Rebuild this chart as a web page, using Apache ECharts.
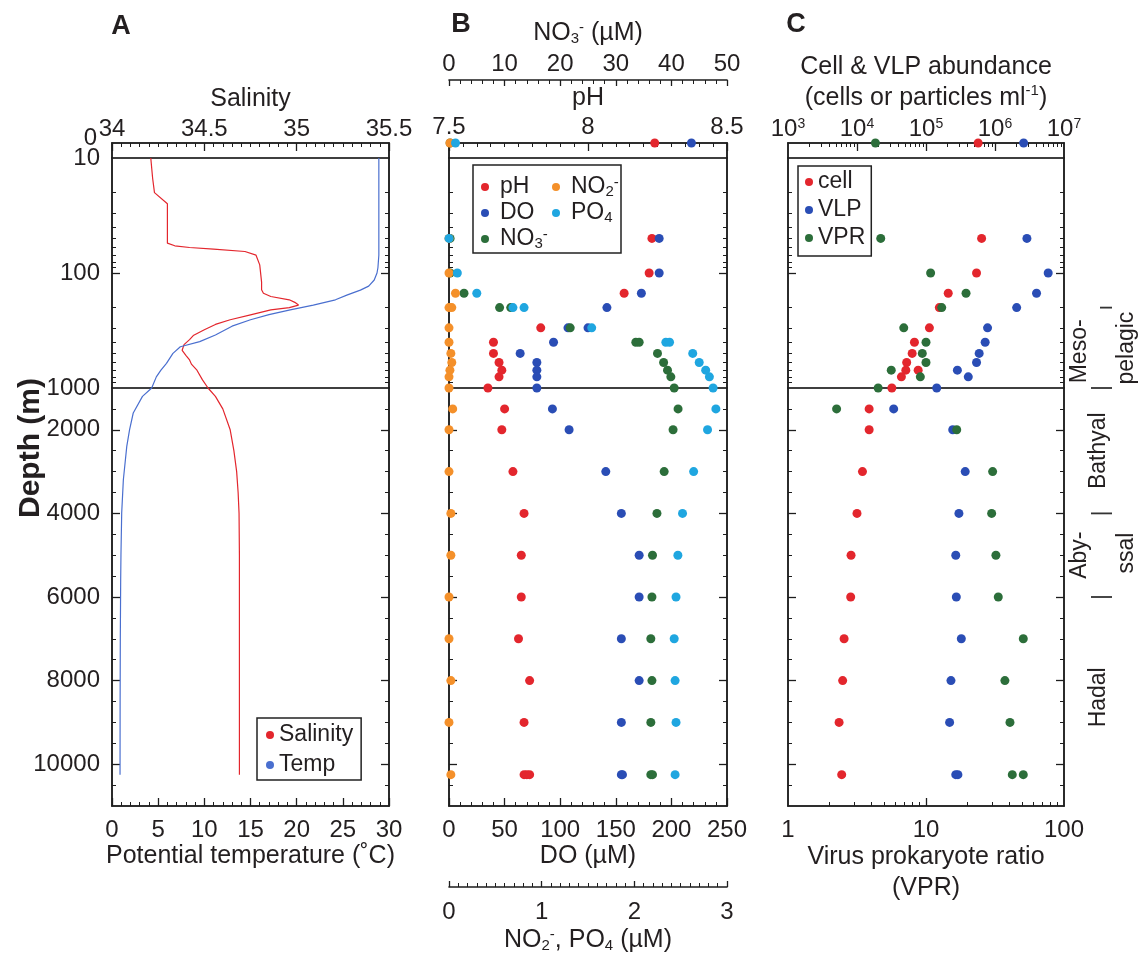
<!DOCTYPE html>
<html><head><meta charset="utf-8">
<script src="https://cdn.jsdelivr.net/npm/echarts@6/dist/echarts.min.js"></script>
<style>html,body{margin:0;padding:0;background:#fff;}#c{width:1142px;height:957px;}</style>
</head><body><div id="c"></div>
<script>
// ---------------- DATA ----------------
// Panel A: CTD profiles (depth m, value)
const salDepth = [10,15,20,25,40,55,58,60,62,65,70,85,120,140,150,160,171,180,190,200,209,231,255,280,311,350,380,420,470,520,570,620,700,850,1000,1200,1500,2000,2500,3000,3500,4000,5000,6000,7000,8000,9000,10250];
const salValue = [34.21,34.22,34.23,34.30,34.30,34.30,34.34,34.42,34.55,34.72,34.78,34.80,34.81,34.81,34.82,34.86,34.96,34.99,35.01,34.96,34.86,34.75,34.64,34.56,34.50,34.44,34.42,34.39,34.38,34.40,34.42,34.43,34.46,34.49,34.52,34.56,34.60,34.64,34.66,34.675,34.683,34.688,34.69,34.69,34.69,34.69,34.69,34.69];
const tempDepth = [10,30,50,70,90,100,115,130,141,155,171,190,209,230,255,290,346,395,438,500,610,700,800,1000,1200,1598,2000,2397,3194,3994,5000,5586,7000,8500,10250];
const tempValue = [28.9,28.9,28.9,28.9,28.8,28.7,28.4,27.8,26.9,25.5,24.2,21.8,19.3,17.0,15.0,13.0,11.2,9.5,7.4,6.6,5.9,5.3,4.8,4.3,3.3,2.3,1.9,1.6,1.23,1.05,0.97,0.94,0.90,0.88,0.87];

// Panel B: chemistry
const pHDepth = [0,50,100,150,300,400,500,600,700,800,1000,1500,2000,3000,4000,5000,6000,7000,8000,9000,10250,10250,10250];
const pHValue = [8.24,8.23,8.22,8.13,7.83,7.66,7.66,7.68,7.69,7.68,7.64,7.70,7.69,7.73,7.77,7.76,7.76,7.75,7.79,7.77,7.77,7.78,7.79];
const doDepth = [0,50,100,150,200,300,300,400,500,600,700,800,1000,1500,2000,3000,4000,5000,6000,7000,8000,9000,10250,10250];
const doValue = [218,189,189,173,142,107,125,94,64,79,79,79,79,93,108,141,155,171,171,155,171,155,155,156];
const no3Depth = [0,50,100,150,200,200,300,400,400,500,600,700,800,1000,1500,2000,3000,4000,5000,6000,7000,8000,9000,10250,10250];
const no3Value = [0.2,0.2,0.2,2.7,9.1,11.1,21.8,33.6,34.2,37.5,38.6,39.3,39.9,40.5,41.2,40.3,38.7,37.4,36.6,36.5,36.3,36.5,36.3,36.3,36.6];
const no2Depth = [0,50,100,150,200,200,300,400,500,600,700,800,1000,1500,2000,3000,4000,5000,6000,7000,8000,9000,10250];
const no2Value = [0.01,0.0,0.0,0.07,0.03,0.0,0.0,0.0,0.02,0.03,0.01,0.0,0.0,0.04,0.0,0.0,0.02,0.02,0.0,0.0,0.02,0.0,0.02];
const po4Depth = [0,50,100,150,200,200,300,400,400,500,600,700,800,1000,1500,2000,3000,4000,5000,6000,7000,8000,9000,10250];
const po4Value = [0.07,0.0,0.09,0.30,0.69,0.81,1.54,2.34,2.38,2.63,2.70,2.77,2.81,2.85,2.88,2.79,2.64,2.52,2.47,2.45,2.43,2.44,2.45,2.44];

// Panel C: abundances and VPR
const cellDepth = [0,50,100,150,200,300,400,500,600,700,700,800,1000,1500,2000,3000,4000,5000,6000,7000,8000,9000,10250];
const cellValue = [5.7e5,6.4e5,5.4e5,2.1e5,1.56e5,1.12e5,6.8e4,6.3e4,5.25e4,5.1e4,7.7e4,4.4e4,3.2e4,1.5e4,1.5e4,1.2e4,1.0e4,8.2e3,8.1e3,6.5e3,6.2e3,5.5e3,6.0e3];
const vlpDepth = [0,50,100,150,200,300,400,500,600,700,800,1000,1500,2000,3000,4000,5000,6000,7000,8000,9000,10250,10250];
const vlpValue = [2.6e6,2.9e6,5.9e6,4.0e6,2.06e6,7.8e5,7.2e5,5.9e5,5.4e5,2.85e5,4.1e5,1.43e5,3.4e4,2.44e5,3.7e5,3.0e5,2.7e5,2.75e5,3.25e5,2.3e5,2.2e5,2.7e5,2.9e5];
const vprDepth = [0,50,100,150,200,300,400,500,600,700,800,1000,1500,2000,3000,4000,5000,6000,7000,8000,9000,10250,10250];
const vprValue = [4.3,4.7,10.8,19.5,13,6.9,10,9.4,10,5.6,9.1,4.5,2.25,16.7,30.4,29.9,32.1,33.4,50.7,37.3,40.6,42.2,50.7];

// Tick / label values
const depthLabels = [[0],[10,100],[1000,2000,4000,6000,8000,10000]];
const depthMajorTicks = [[],[100],[2000,4000,6000,8000,10000]];
const depthMinorTicks = [[],[20,30,40,50,60,70,80,90,200,300,400,500,600,700,800,900],[1500,2500,3000,3500,4500,5000,5500,6500,7000,7500,8500,9000,9500,10500]];
const cellLabels = [1e3,1e4,1e5,1e6,1e7];
const cellMajor = [1e4,1e5,1e6];
const cellMinor = [2e3,3e3,4e3,5e3,6e3,7e3,8e3,9e3,2e4,3e4,4e4,5e4,6e4,7e4,8e4,9e4,2e5,3e5,4e5,5e5,6e5,7e5,8e5,9e5,2e6,3e6,4e6,5e6,6e6,7e6,8e6,9e6];
const vprLabels = [1,10,100];
const vprMajor = [10];
const vprMinor = [2,3,4,5,6,7,8,9,20,30,40,50,60,70,80,90];
const zones = [{text:'Meso-',d:480,col:0},{text:'pelagic',d:450,col:2},{text:'Bathyal',d:2500,col:1},{text:'Aby-',d:5000,col:0},{text:'ssal',d:4950,col:2},{text:'Hadal',d:8400,col:1}];
const zoneBounds = [200,1000,4000,6000];

// ---------------- LAYOUT / STYLE ----------------
const FONT = "'Liberation Sans', Arial, Helvetica, sans-serif";
const TXT = '#231f20';
const AX = '#1d1d1d';
const RED = '#e3262d', BLUE = '#2a4db5', GREEN = '#2c6e3a', ORANGE = '#f4902a', CYAN = '#1fa6e0';
const PANELS = {A:{left:112,width:277}, B:{left:449,width:278}, C:{left:788,width:276}};
const SECTIONS = [{top:143,height:15},{top:158,height:230},{top:388,height:418}];
const TICK_FS = 24, NAME_FS = 25, LEG_FS = 23;
const RICH = {
  sub:{fontSize:15, verticalAlign:'bottom', fontFamily:FONT, color:TXT, lineHeight:15},
  sup:{fontSize:15, verticalAlign:'top', fontFamily:FONT, color:TXT, lineHeight:15},
  s:{fontSize:14, verticalAlign:'top', fontFamily:FONT, color:TXT, lineHeight:14}
};

const option = {animation:false, backgroundColor:'#fff', textStyle:{fontFamily:FONT},
  grid:[], xAxis:[], yAxis:[], series:[], legend:[]};

function addGrid(p, sec){
  const s = SECTIONS[sec];
  option.grid.push({left:p.left, top:s.top, width:p.width, height:s.height, show:true,
    borderColor:'#333', borderWidth:1.5, backgroundColor:'transparent', containLabel:false, outerBoundsMode:'none'});
  return option.grid.length-1;
}
function addX(a){ option.xAxis.push(a); return option.xAxis.length-1; }
function addY(a){ option.yAxis.push(a); return option.yAxis.length-1; }

function depthBase(sec){
  if(sec===0) return {type:'value', min:0, max:10, inverse:true};
  if(sec===1) return {type:'log', logBase:10, min:10, max:1000, inverse:true};
  return {type:'value', min:1000, max:11000, inverse:true};
}
function addDepthAxes(gi, sec, withLabels){
  let main;
  ['left','right'].forEach(pos=>{
    const maj = depthMajorTicks[sec];
    const lab = {show: withLabels && pos==='left', customValues:depthLabels[sec], margin:12,
        fontSize:TICK_FS, fontFamily:FONT, color:TXT, formatter:v=>String(Math.round(v))};
    if(sec===0){ lab.verticalAlign='bottom'; lab.lineHeight=10; lab.margin=15; }
    const ax = Object.assign(depthBase(sec), {gridIndex:gi, position:pos,
      axisLine:{show:true, onZero:false, lineStyle:{color:AX, width:1.6}},
      axisTick:{show:maj.length>0, inside:true, length:8, customValues:maj, lineStyle:{color:AX, width:1.3}},
      axisLabel:lab, splitLine:{show:false}});
    const idx = addY(ax);
    if(pos==='left') main = idx;
    const mn = depthMinorTicks[sec];
    if(mn.length){
      addY(Object.assign(depthBase(sec), {gridIndex:gi, position:pos,
        axisLine:{show:false, onZero:false},
        axisTick:{show:true, inside:true, length:4, customValues:mn, lineStyle:{color:AX, width:1}},
        axisLabel:{show:false}, splitLine:{show:false}}));
    }
  });
  return main;
}
function hiddenX(gi, type, min, max){
  return addX({gridIndex:gi, type, min, max, show:false, axisLine:{onZero:false}, splitLine:{show:false}});
}
function visX(gi, c){
  const ax = {gridIndex:gi, type:c.type||'value', position:c.position, offset:c.offset||0, min:c.min, max:c.max,
    axisLine:{show:true, onZero:false, lineStyle:{color:AX, width:1.6}},
    axisTick:{show:true, inside:c.inside!==false, length:c.tickLen||8, lineStyle:{color:AX, width:1.3}},
    axisLabel:{show:true, margin:c.margin, fontSize:TICK_FS, fontFamily:FONT, color:TXT, lineHeight:24,
      formatter:c.formatter||(v=>String(v)), rich:RICH},
    splitLine:{show:false},
    name:c.name, nameLocation:'middle', nameGap:c.nameGap, nameMoveOverlap:false,
    nameTextStyle:{fontSize:NAME_FS, fontFamily:FONT, color:TXT, lineHeight:c.nameLH||26, rich:RICH}};
  if(c.logBase) ax.logBase = c.logBase;
  if(c.interval!=null){ ax.interval=c.interval;
    ax.minorTick={show:true, splitNumber:c.minorSplit, length:4, lineStyle:{color:AX, width:1}}; }
  if(c.tickValues) ax.axisTick.customValues = c.tickValues;
  if(c.labelValues) ax.axisLabel.customValues = c.labelValues;
  return addX(ax);
}
function minorX(gi, type, min, max, position, values){
  return addX({gridIndex:gi, type, logBase:10, min, max, position,
    axisLine:{show:false, onZero:false},
    axisTick:{show:true, inside:true, length:4, customValues:values, lineStyle:{color:AX, width:1}},
    axisLabel:{show:false}, splitLine:{show:false}});
}
function secOf(d){ return d<10 ? 0 : (d<=1000 ? 1 : 2); }
function pts(vals, depths, sec){
  const out=[]; for(let i=0;i<vals.length;i++){ if(secOf(depths[i])===sec) out.push([vals[i], depths[i]]); } return out;
}
function linePts(vals, depths, sec){
  const out=[]; for(let i=0;i<vals.length;i++){ const d=depths[i];
    if(sec===1 && d>=10 && d<=1000) out.push([vals[i], d]);
    if(sec===2 && d>=1000) out.push([vals[i], d]); }
  return out;
}
function scatter(name, color, xi, yi, data){
  option.series.push({type:'scatter', name, xAxisIndex:xi, yAxisIndex:yi, data, symbol:'circle', symbolSize:9,
    itemStyle:{color, opacity:1}, emphasis:{disabled:true}, z:3});
}
function line(name, color, xi, yi, data){
  option.series.push({type:'line', name, xAxisIndex:xi, yAxisIndex:yi, data, symbol:'none', showSymbol:false,
    lineStyle:{color, width:1.2}, itemStyle:{color}, emphasis:{disabled:true}, clip:true, z:2});
}

// ---------- Panel A ----------
for(let sec=0; sec<3; sec++){
  const gi = addGrid(PANELS.A, sec);
  const yi = addDepthAxes(gi, sec, true);
  const sx = sec===0 ? visX(gi,{position:'top', min:34, max:35.5, interval:0.5, minorSplit:10, margin:2,
      name:'Salinity', nameGap:31}) : hiddenX(gi,'value',34,35.5);
  const tx = sec===2 ? visX(gi,{position:'bottom', min:0, max:30, interval:5, minorSplit:5, margin:12,
      name:'Potential temperature (˚C)', nameGap:37}) : hiddenX(gi,'value',0,30);
  if(sec>0){
    line('Salinity', RED, sx, yi, linePts(salValue, salDepth, sec));
    line('Temp', '#4a6fcf', tx, yi, linePts(tempValue, tempDepth, sec));
  }
}
// ---------- Panel B ----------
for(let sec=0; sec<3; sec++){
  const gi = addGrid(PANELS.B, sec);
  const yi = addDepthAxes(gi, sec, false);
  const phx = sec===0 ? visX(gi,{position:'top', min:7.5, max:8.5, interval:0.5, minorSplit:10, margin:4,
      name:'pH', nameGap:32}) : hiddenX(gi,'value',7.5,8.5);
  const n3x = sec===0 ? visX(gi,{position:'top', offset:63, min:0, max:50, interval:10, minorSplit:5, margin:4,
      tickLen:6, name:'NO{sub|3}{sup|-} (µM)', nameGap:34}) : hiddenX(gi,'value',0,50);
  const dox = sec===2 ? visX(gi,{position:'bottom', min:0, max:250, interval:50, minorSplit:5, margin:12,
      name:'DO (µM)', nameGap:37}) : hiddenX(gi,'value',0,250);
  const npx = sec===2 ? visX(gi,{position:'bottom', offset:81, min:0, max:3, interval:1, minorSplit:10, margin:13,
      tickLen:6, name:'NO{sub|2}{sup|-}, PO{sub|4} (µM)', nameGap:40}) : hiddenX(gi,'value',0,3);
  scatter('pH', RED, phx, yi, pts(pHValue, pHDepth, sec));
  scatter('DO', BLUE, dox, yi, pts(doValue, doDepth, sec));
  scatter('NO3', GREEN, n3x, yi, pts(no3Value, no3Depth, sec));
  scatter('NO2', ORANGE, npx, yi, pts(no2Value, no2Depth, sec));
  scatter('PO4', CYAN, npx, yi, pts(po4Value, po4Depth, sec));
}
// ---------- Panel C ----------
const C_Y = [];
for(let sec=0; sec<3; sec++){
  const gi = addGrid(PANELS.C, sec);
  const yi = addDepthAxes(gi, sec, false);
  C_Y.push(yi);
  let cx, vx;
  if(sec===0){
    cx = visX(gi,{type:'log', logBase:10, position:'top', min:1e3, max:1e7, margin:2,
      tickValues:cellMajor, labelValues:cellLabels,
      formatter:v=>'10{s|'+Math.round(Math.log10(v))+'}',
      name:'Cell & VLP abundance\n(cells or particles ml{sup|-1})', nameGap:29, nameLH:31});
    minorX(gi,'log',1e3,1e7,'top',cellMinor);
  } else cx = hiddenX(gi,'log',1e3,1e7);
  if(sec===2){
    vx = visX(gi,{type:'log', logBase:10, position:'bottom', min:1, max:100, margin:12,
      tickValues:vprMajor, labelValues:vprLabels, formatter:v=>String(Math.round(v)),
      name:'Virus prokaryote ratio\n(VPR)', nameGap:36, nameLH:31});
    minorX(gi,'log',1,100,'bottom',vprMinor);
  } else vx = hiddenX(gi,'log',1,100);
  scatter('cell', RED, cx, yi, pts(cellValue, cellDepth, sec));
  scatter('VLP', BLUE, cx, yi, pts(vlpValue, vlpDepth, sec));
  scatter('VPR', GREEN, vx, yi, pts(vprValue, vprDepth, sec));
}

// ---------- Legends ----------
const legTxt = {fontSize:LEG_FS, fontFamily:FONT, color:TXT, lineHeight:24, rich:RICH};
const legFmt = n => ({NO3:'NO{sub|3}{sup|-}', NO2:'NO{sub|2}{sup|-}', PO4:'PO{sub|4}'}[n] || n);
option.legend = [
  {data:['Salinity','Temp'], left:257, top:718, orient:'vertical', icon:'circle', itemWidth:8, itemHeight:8,
   itemGap:6, padding:[5,8,3,9], borderColor:'#222', borderWidth:1.5, textStyle:legTxt, selectedMode:false},
  {data:['pH','DO','NO3'], left:481, top:175, orient:'vertical', icon:'circle', itemWidth:20, itemHeight:8,
   itemGap:2, padding:0, textStyle:legTxt, formatter:legFmt, selectedMode:false},
  {data:['NO2','PO4'], left:552, top:175, orient:'vertical', icon:'circle', itemWidth:20, itemHeight:8,
   itemGap:2, padding:0, textStyle:legTxt, formatter:legFmt, selectedMode:false},
  {data:['cell','VLP','VPR'], left:798, top:166, orient:'vertical', icon:'circle', itemWidth:8, itemHeight:8,
   itemGap:4, padding:[4,6,6,7], borderColor:'#222', borderWidth:1.5, textStyle:legTxt, selectedMode:false}
];

const chart = echarts.init(document.getElementById('c'), null, {renderer:'canvas', width:1142, height:957});
chart.setOption(option);

// ---------- Annotations ----------
function tstyle(text, size, weight){
  return {text, fontSize:size, fontWeight:weight||'normal', fontFamily:FONT, fill:TXT,
    align:'center', verticalAlign:'middle', textAlign:'center', textVerticalAlign:'middle'};
}
const depthPx = d => chart.convertToPixel({yAxisIndex: d<=1000 ? C_Y[1] : C_Y[2]}, d);
const colX = [1080, 1099, 1127];
const els = [
  {type:'text', x:121, y:27, style:tstyle('A',27,'bold')},
  {type:'text', x:461, y:25, style:tstyle('B',27,'bold')},
  {type:'text', x:796, y:25, style:tstyle('C',27,'bold')},
  {type:'text', x:31, y:448, rotation:Math.PI/2, style:tstyle('Depth (m)',30,'bold')},
  {type:'rect', shape:{x:473, y:165, width:148, height:88}, style:{fill:'none', stroke:'#222', lineWidth:1.5}}
];
zones.forEach(z=>{
  els.push({type:'text', x:colX[z.col], y:depthPx(z.d), rotation:Math.PI/2, style:tstyle(z.text,23)});
});
zoneBounds.forEach(d=>{
  const y = depthPx(d);
  els.push({type:'line', shape:{x1:d===200?1100:1091, y1:y, x2:1112, y2:y}, style:{stroke:'#333', lineWidth:1.8}});
});
chart.setOption({graphic:{elements:els}});
</script></body></html>
